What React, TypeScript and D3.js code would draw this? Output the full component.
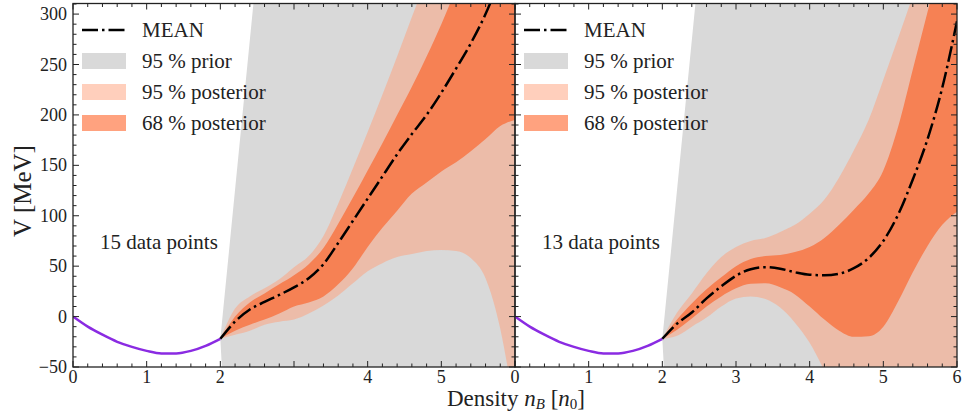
import React, { useEffect, useRef } from "react";
import * as d3 from "d3";

// crust part (same in both panels)
const crustX = [0, 0.2, 0.4, 0.6, 0.8, 1.0, 1.2, 1.4, 1.6, 1.8, 2.0];
const crustV = [0, -10, -18, -25, -30, -34, -36.5, -36.5, -34, -29, -22];

// prior band (straight edges)
const priorX = [2.0, 2.45, 6.0];
const priorUp = [-22, 311, 2930];
const priorLo = [-22, -625, -5600];

// posterior grid
const bandX = [2.0, 2.2, 2.4, 2.6, 2.8, 3.0, 3.2, 3.4, 3.6, 3.8, 4.0, 4.2, 4.4, 4.6, 4.8, 5.0, 5.2, 5.4, 5.6, 5.8, 6.0];

// 15 data points
const meanA = [-22, -5, 7, 14.5, 21.5, 29, 38, 52, 73, 95, 117, 139, 161, 181, 200, 222, 246, 271, 300, 335, 370];
const up68A = [-22, 0, 14, 23, 32, 41, 52, 68, 92, 118, 145, 172, 200, 228, 258, 290, 325, 360, 395, 430, 465];
const up95A = [-22, 8, 20, 28, 37, 49, 60, 80, 112, 147, 183, 220, 258, 297, 335, 372, 410, 448, 486, 524, 562];
const lo68A = [-22, -14, -8, -3, 3, 10, 14, 20, 32, 48, 69, 88, 105, 122, 133, 144, 153, 164, 176, 189, 195];
const lo95A = [-22, -18, -14, -8, -5, -3, 3, 11, 21, 33, 45, 53, 59, 62, 65, 66, 65, 58, 38, -12, -95];

// 13 data points
const meanB = [-22, -7, 4, 18, 30, 40.5, 47, 49, 47.5, 44, 41.5, 41, 42.5, 48, 58, 75, 101, 136, 176, 227, 293];
const up68B = [-22, -3, 13, 27, 39, 50, 57, 60, 61, 64, 69, 78, 91, 106, 122, 145, 188, 245, 302, 360, 420];
const up95B = [-22, 4, 23, 43, 59, 69, 75, 78, 84, 91, 102, 116, 138, 165, 195, 235, 276, 318, 360, 400, 440];
const lo68B = [-22, -13, -2, 10, 20, 28, 32.5, 33, 29, 22, 10, -3, -14, -20, -19.5, -10, 15, 44, 70, 91, 104];
const lo95B = [-22, -19, -10, -1, 10, 18, 20, 17.5, 9, -6, -26, -54, -88, -120, -150, -180, -210, -240, -270, -300, -330];

const xLabelsA = [0, 1, 2, 4, 5];
const xLabelsB = [0, 1, 2, 3, 4, 5, 6];
const yLabels = [-50, 0, 50, 100, 150, 200, 250, 300];
const legendItems = ["MEAN", "95 % prior", "95 % posterior", "68 % posterior"];

const FONT = "Liberation Serif, Tinos, Times New Roman, DejaVu Serif, serif";

const panels = [
  { x0: 73, x1: 515, mean: meanA, up68: up68A, lo68: lo68A, up95: up95A, lo95: lo95A, note: "15 data points", xLabels: xLabelsA, showY: true },
  { x0: 515, x1: 957, mean: meanB, up68: up68B, lo68: lo68B, up95: up95B, lo95: lo95B, note: "13 data points", xLabels: xLabelsB, showY: false },
];

export default function App() {
  const ref = useRef<SVGSVGElement>(null);

  useEffect(() => {
    const svg = d3.select(ref.current);
    svg.selectAll("*").remove();

    const top = 3.5, bottom = 367;
    const y = d3.scaleLinear().domain([-50, 310.5]).range([bottom, top]);

    panels.forEach((p, i) => {
      const x = d3.scaleLinear().domain([0, 6]).range([p.x0, p.x1]);
      const clipId = `clip-${i}`;
      svg.append("clipPath").attr("id", clipId)
        .append("rect")
        .attr("x", p.x0).attr("y", top)
        .attr("width", p.x1 - p.x0).attr("height", bottom - top);

      const plot = svg.append("g").attr("clip-path", `url(#${clipId})`);

      const band = (xs: number[], lo: number[], hi: number[], curve: d3.CurveFactory) =>
        d3.area<number>()
          .x((d) => x(d))
          .y0((_, k) => y(lo[k]))
          .y1((_, k) => y(hi[k]))
          .curve(curve)(xs);

      const line = (xs: number[], vs: number[]) =>
        d3.line<number>()
          .x((d) => x(d))
          .y((_, k) => y(vs[k]))
          .curve(d3.curveMonotoneX)(xs);

      plot.append("path").attr("d", band(priorX, priorLo, priorUp, d3.curveLinear)).attr("fill", "#d9d9d9");
      plot.append("path").attr("d", band(bandX, p.lo95, p.up95, d3.curveMonotoneX))
        .attr("fill", "#ffa07a").attr("fill-opacity", 0.5);
      plot.append("path").attr("d", band(bandX, p.lo68, p.up68, d3.curveMonotoneX))
        .attr("fill", "#ff4500").attr("fill-opacity", 0.5);

      plot.append("path").attr("d", line(crustX, crustV))
        .attr("fill", "none").attr("stroke", "#8a2be2").attr("stroke-width", 2.5);
      plot.append("path").attr("d", line(bandX, p.mean))
        .attr("fill", "none").attr("stroke", "#000").attr("stroke-width", 2.5)
        .attr("stroke-dasharray", "16 4 2.5 4");

      // frame + ticks on all sides, pointing in
      const ax = svg.append("g").attr("stroke", "#222").attr("stroke-width", 1);
      const xMajor = d3.range(0, 7, 1);
      const xMinor = d3.range(0, 6.01, 0.2).filter((v) => Math.abs(v - Math.round(v)) > 1e-6);
      const yMajor = d3.range(-50, 301, 50);
      const yMinor = d3.range(-50, 311, 10).filter((v) => v % 50 !== 0);
      const tickX = (vals: number[], len: number) => {
        vals.forEach((v) => {
          ax.append("line").attr("x1", x(v)).attr("x2", x(v)).attr("y1", bottom).attr("y2", bottom - len);
          ax.append("line").attr("x1", x(v)).attr("x2", x(v)).attr("y1", top).attr("y2", top + len);
        });
      };
      const tickY = (vals: number[], len: number) => {
        vals.forEach((v) => {
          ax.append("line").attr("y1", y(v)).attr("y2", y(v)).attr("x1", p.x0).attr("x2", p.x0 + len);
          ax.append("line").attr("y1", y(v)).attr("y2", y(v)).attr("x1", p.x1).attr("x2", p.x1 - len);
        });
      };
      tickX(xMajor, 6);
      tickX(xMinor, 3.5);
      tickY(yMajor, 6);
      tickY(yMinor, 3.5);
      svg.append("rect")
        .attr("x", p.x0).attr("y", top)
        .attr("width", p.x1 - p.x0).attr("height", bottom - top)
        .attr("fill", "none").attr("stroke", "#222").attr("stroke-width", 1.3);

      // tick labels
      svg.append("g").selectAll("text").data(p.xLabels).enter().append("text")
        .attr("x", (d) => x(d)).attr("y", 383)
        .attr("text-anchor", "middle")
        .style("font-family", FONT).style("font-size", "18px").attr("fill", "#222")
        .text((d) => String(d));
      if (p.showY) {
        svg.append("g").selectAll("text").data(yLabels).enter().append("text")
          .attr("x", p.x0 - 6).attr("y", (d) => y(d))
          .attr("dy", "0.34em")
          .attr("text-anchor", "end")
          .style("font-family", FONT).style("font-size", "18px").attr("fill", "#222")
          .text((d) => (d < 0 ? "\u2212" + Math.abs(d) : String(d)));
      }

      // annotation
      svg.append("text")
        .attr("x", p.x0 + 27).attr("y", 249)
        .style("font-family", FONT).style("font-size", "21px").attr("fill", "#222")
        .text(p.note);

      // legend
      const lg = svg.append("g").attr("transform", `translate(${p.x0 + 9},0)`);
      const rowY = [30, 61, 92, 123];
      legendItems.forEach((label, k) => {
        if (k === 0) {
          lg.append("line").attr("x1", 0).attr("x2", 44).attr("y1", rowY[k]).attr("y2", rowY[k])
            .attr("stroke", "#000").attr("stroke-width", 2.5).attr("stroke-dasharray", "16 4 2.5 4");
        } else {
          const r = lg.append("rect").attr("x", 0).attr("y", rowY[k] - 8).attr("width", 44).attr("height", 16);
          if (k === 1) r.attr("fill", "#d9d9d9");
          if (k === 2) r.attr("fill", "#ffa07a").attr("fill-opacity", 0.5);
          if (k === 3) r.attr("fill", "#ff4500").attr("fill-opacity", 0.5);
        }
        lg.append("text").attr("x", 60).attr("y", rowY[k]).attr("dy", "0.34em")
          .style("font-family", FONT).style("font-size", "21px").attr("fill", "#222")
          .text(label);
      });
    });

    // axis titles
    const xt = svg.append("text")
      .attr("x", 516).attr("y", 406)
      .attr("text-anchor", "middle")
      .style("font-family", FONT).style("font-size", "23px").attr("fill", "#222");
    xt.append("tspan").text("Density ");
    xt.append("tspan").attr("font-style", "italic").text("n");
    xt.append("tspan").attr("font-style", "italic").style("font-size", "15px").attr("dy", 3).text("B");
    xt.append("tspan").attr("dy", -3).text(" [");
    xt.append("tspan").attr("font-style", "italic").text("n");
    xt.append("tspan").style("font-size", "15px").attr("dy", 3).text("0");
    xt.append("tspan").attr("dy", -3).text("]");

    svg.append("text")
      .attr("transform", "translate(31,191) rotate(-90)")
      .attr("text-anchor", "middle")
      .style("font-family", FONT).style("font-size", "25px").attr("fill", "#222")
      .text("V [MeV]");
  }, []);

  return (
    <svg
      ref={ref}
      width={971}
      height={415}
      style={{ position: "absolute", left: 0, top: 0, background: "#fff" }}
    />
  );
}
